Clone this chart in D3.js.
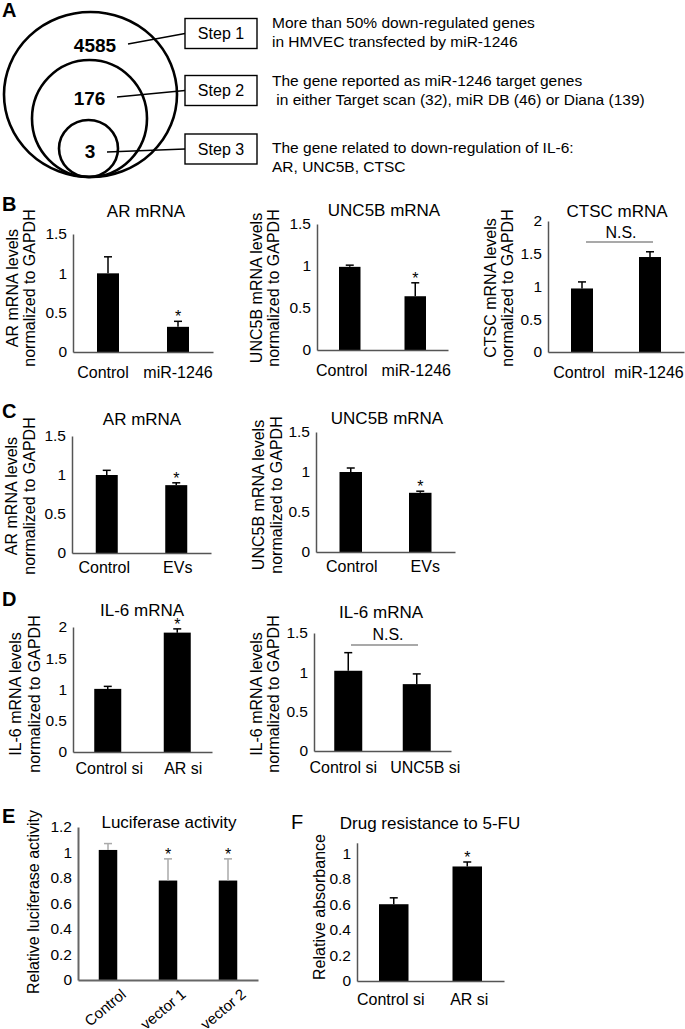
<!DOCTYPE html>
<html><head><meta charset="utf-8">
<script src="https://cdn.jsdelivr.net/npm/d3@7"></script>
<style>
body{margin:0;background:#fff}
text{font-family:Arial,"Liberation Sans",sans-serif;fill:#000}
</style>
</head><body>
<script>
// ---------------- DATA ----------------
// Panel A
const vennCounts = [4585, 176, 3];
const stepLabels = ["Step 1", "Step 2", "Step 3"];
const stepDescriptions = [
  ["More than 50% down-regulated genes", "in HMVEC transfected by miR-1246"],
  ["The gene reported as miR-1246 target genes", " in either Target scan (32), miR DB (46) or Diana (139)"],
  ["The gene related to down-regulation of IL-6:", "AR, UNC5B, CTSC"]
];
// Panel B
const bCategories = ["Control", "miR-1246"];
const bARValues = [1.0, 0.32],   bARErrors = [0.21, 0.07],   bARStars = [false, true];
const bUNCValues = [0.99, 0.64], bUNCErrors = [0.02, 0.16],  bUNCStars = [false, true];
const bCTSCValues = [0.97, 1.45], bCTSCErrors = [0.10, 0.08], bCTSCStars = [false, false];
// Panel C
const cCategories = ["Control", "EVs"];
const cARValues = [1.0, 0.87],  cARErrors = [0.06, 0.03],  cARStars = [false, true];
const cUNCValues = [1.0, 0.74], cUNCErrors = [0.05, 0.02], cUNCStars = [false, true];
// Panel D
const dARCategories = ["Control si", "AR si"];
const dARValues = [1.01, 1.91], dARErrors = [0.04, 0.06], dARStars = [false, true];
const dUNCCategories = ["Control si", "UNC5B si"];
const dUNCValues = [1.02, 0.85], dUNCErrors = [0.23, 0.13], dUNCStars = [false, false];
// Panel E
const eCategories = ["Control", "vector 1", "vector 2"];
const eValues = [1.02, 0.78, 0.78], eErrors = [0.05, 0.17, 0.17], eStars = [false, true, true];
// Panel F
const fCategories = ["Control si", "AR si"];
const fValues = [0.60, 0.895], fErrors = [0.05, 0.035], fStars = [false, true];
// Tick values
const ticks15 = [0, 0.5, 1, 1.5];
const ticks2 = [0, 0.5, 1, 1.5, 2];
const ticksE = [0, 0.2, 0.4, 0.6, 0.8, 1, 1.2];
const ticksF = [0, 0.2, 0.4, 0.6, 0.8, 1];

// ---------------- DRAW ----------------
const W = 685, H = 1029;
const svg = d3.select("body").append("svg").attr("width", W).attr("height", H);

// Panel letters
const letters = [
  {t: "A", x: 2, y: 16.5, w: "bold"}, {t: "B", x: 2, y: 211, w: "bold"},
  {t: "C", x: 2, y: 418, w: "bold"}, {t: "D", x: 2, y: 606, w: "bold"},
  {t: "E", x: 2, y: 823, w: "bold"}, {t: "F", x: 291, y: 829, w: "normal"}
];
svg.selectAll("text.letter").data(letters).join("text").attr("class", "letter")
  .attr("x", d => d.x).attr("y", d => d.y).attr("font-size", 20)
  .attr("font-weight", d => d.w).text(d => d.t);

// ---- Panel A ----
const circLayout = [
  {cx: 90.5, cy: 94.5, rx: 86.5, ry: 82.5, nx: 95, ny: 52, lx: 128, ly: 44, by: 33.5},
  {cx: 89.5, cy: 118.5, rx: 57.5, ry: 58.5, nx: 89.5, ny: 105, lx: 117, ly: 97, by: 90.5},
  {cx: 88.5, cy: 148.5, rx: 29.5, ry: 28.5, nx: 90, ny: 158, lx: 107, ly: 152, by: 149}
];
const gA = svg.append("g");
gA.selectAll("ellipse").data(circLayout).join("ellipse")
  .attr("cx", d => d.cx).attr("cy", d => d.cy).attr("rx", d => d.rx).attr("ry", d => d.ry)
  .attr("fill", "none").attr("stroke", "#000").attr("stroke-width", 2.6);
gA.selectAll("text.count").data(vennCounts).join("text").attr("class", "count")
  .attr("x", (d, i) => circLayout[i].nx).attr("y", (d, i) => circLayout[i].ny)
  .attr("text-anchor", "middle").attr("font-size", 19).attr("font-weight", "bold").text(d => d);
const boxX = 185, boxW = 72, boxH = 30;
gA.selectAll("line.lead").data(stepLabels).join("line").attr("class", "lead")
  .attr("x1", (d, i) => circLayout[i].lx).attr("y1", (d, i) => circLayout[i].ly)
  .attr("x2", boxX).attr("y2", (d, i) => circLayout[i].by)
  .attr("stroke", "#000").attr("stroke-width", 1.3);
gA.selectAll("rect.box").data(stepLabels).join("rect").attr("class", "box")
  .attr("x", boxX).attr("y", (d, i) => circLayout[i].by - boxH / 2)
  .attr("width", boxW).attr("height", boxH)
  .attr("fill", "#fff").attr("stroke", "#000").attr("stroke-width", 1.4);
gA.selectAll("text.step").data(stepLabels).join("text").attr("class", "step")
  .attr("x", boxX + boxW / 2).attr("y", (d, i) => circLayout[i].by).attr("dy", "0.36em")
  .attr("text-anchor", "middle").attr("font-size", 16).text(d => d);
const descBaselines = [[28, 47], [86, 104.5], [153, 172]];
stepDescriptions.forEach((lines, i) => {
  gA.selectAll(null).data(lines).join("text")
    .attr("x", 272).attr("y", (d, j) => descBaselines[i][j])
    .attr("font-size", 15.5).attr("xml:space", "preserve").style("white-space", "pre").text(d => d);
});

// ---- Bar chart helper ----
function drawChart(s) {
  const L = s.L;
  const g = svg.append("g");
  const step = (L.x1 - L.x0) / s.cats.length;
  const p = 1 - L.barW / step;
  const x = d3.scaleBand().domain(s.cats).range([L.x0, L.x1]).paddingInner(p).paddingOuter(p / 2);
  const y = d3.scaleLinear().domain([0, L.max]).range([L.y0, L.yTop]);
  const cx = i => x(s.cats[i]) + x.bandwidth() / 2;

  g.selectAll("rect.bar").data(s.vals).join("rect")
    .attr("x", (d, i) => x(s.cats[i])).attr("y", d => y(d))
    .attr("width", x.bandwidth()).attr("height", d => y(0) - y(d)).attr("fill", "#000");

  const ec = s.errColor || "#000";
  g.selectAll("line.err").data(s.vals).join("line")
    .attr("x1", (d, i) => cx(i)).attr("x2", (d, i) => cx(i))
    .attr("y1", d => y(d)).attr("y2", (d, i) => y(d + s.errs[i]))
    .attr("stroke", ec).attr("stroke-width", 1.5);
  g.selectAll("line.cap").data(s.vals).join("line")
    .attr("x1", (d, i) => cx(i) - 4).attr("x2", (d, i) => cx(i) + 4)
    .attr("y1", (d, i) => y(d + s.errs[i])).attr("y2", (d, i) => y(d + s.errs[i]))
    .attr("stroke", ec).attr("stroke-width", 1.5);
  s.vals.forEach((d, i) => {
    if (s.stars[i]) g.append("text").attr("x", cx(i)).attr("y", y(d + s.errs[i]) + 1)
      .attr("text-anchor", "middle").attr("font-size", 16).text("*");
  });

  const ya = g.append("g").attr("transform", `translate(${L.x0},0)`)
    .call(d3.axisLeft(y).tickValues(L.ticks).tickSize(0).tickSizeOuter(0).tickPadding(6).tickFormat(d3.format("~g")));
  const xa = g.append("g").attr("transform", `translate(0,${L.y0})`)
    .call(d3.axisBottom(x).tickSize(0).tickSizeOuter(0).tickPadding(L.labelPad));
  [ya, xa].forEach(a => {
    a.attr("font-size", null).attr("font-family", null);
    a.select(".domain").attr("stroke", L.axisColor || "#555").attr("stroke-width", L.axisW || 1.5);
    a.selectAll("text").attr("font-size", a === ya ? 15.5 : 16).attr("fill", "#000");
  });
  if (L.labelDx) xa.selectAll(".tick text").attr("x", (d, i) => L.labelDx[i]);
  if (s.rotate) {
    xa.selectAll(".tick text").attr("text-anchor", "end").attr("dy", null)
      .attr("x", s.rotate.dx).attr("y", s.rotate.dy)
      .attr("transform", `rotate(-40 ${s.rotate.dx} ${s.rotate.dy})`).attr("font-size", 15);
  }

  g.append("text").attr("x", L.titleX).attr("y", L.titleY).attr("text-anchor", "middle")
    .attr("font-size", 17).text(s.title);
  g.selectAll("text.ytitle").data(s.yTitle).join("text").attr("class", "ytitle")
    .attr("transform", (d, i) => `translate(${L.yTitleX[i]},${L.yTitleY}) rotate(-90)`)
    .attr("text-anchor", "middle").attr("font-size", 16).text(d => d);
  if (s.ns) {
    g.append("text").attr("x", s.ns.x).attr("y", s.ns.y).attr("text-anchor", "middle")
      .attr("font-size", 16).text("N.S.");
    g.append("line").attr("x1", s.ns.x1).attr("x2", s.ns.x2).attr("y1", s.ns.ly).attr("y2", s.ns.ly)
      .attr("stroke", "#555").attr("stroke-width", 1.2);
  }
}

// ---- Panel B ----
drawChart({cats: bCategories, vals: bARValues, errs: bARErrors, stars: bARStars,
  title: "AR mRNA", yTitle: ["AR mRNA levels", "normalized to GAPDH"],
  L: {x0: 73, x1: 213, y0: 352, yTop: 234, max: 1.5, ticks: ticks15, barW: 22, labelPad: 14.6, labelDx: [-5, 0],
      titleX: 146, titleY: 216.5, yTitleX: [17.5, 34.5], yTitleY: 288}});
drawChart({cats: bCategories, vals: bUNCValues, errs: bUNCErrors, stars: bUNCStars,
  title: "UNC5B mRNA", yTitle: ["UNC5B mRNA levels", "normalized to GAPDH"],
  L: {x0: 317, x1: 448, y0: 350, yTop: 224, max: 1.5, ticks: ticks15, barW: 21.5, labelPad: 14.6, labelDx: [-8, 1],
      titleX: 384, titleY: 215.5, yTitleX: [261.5, 279], yTitleY: 288}});
drawChart({cats: bCategories, vals: bCTSCValues, errs: bCTSCErrors, stars: bCTSCStars,
  title: "CTSC mRNA", yTitle: ["CTSC mRNA levels", "normalized to GAPDH"],
  ns: {x: 621, y: 238, x1: 586, x2: 653, ly: 242},
  L: {x0: 548, x1: 684, y0: 352, yTop: 221, max: 2, ticks: ticks2, barW: 22, labelPad: 14.6, labelDx: [-3, -1],
      titleX: 617, titleY: 217, yTitleX: [495.5, 512.5], yTitleY: 288}});

// ---- Panel C ----
drawChart({cats: cCategories, vals: cARValues, errs: cARErrors, stars: cARStars,
  title: "AR mRNA", yTitle: ["AR mRNA levels", "normalized to GAPDH"],
  L: {x0: 72, x1: 211, y0: 553, yTop: 436, max: 1.5, ticks: ticks15, barW: 22, labelPad: 8.6, labelDx: [-2.5, 1.5],
      titleX: 142, titleY: 425, yTitleX: [16.5, 34.5], yTitleY: 496}});
drawChart({cats: cCategories, vals: cUNCValues, errs: cUNCErrors, stars: cUNCStars,
  title: "UNC5B mRNA", yTitle: ["UNC5B mRNA levels", "normalized to GAPDH"],
  L: {x0: 316, x1: 455, y0: 552, yTop: 432, max: 1.5, ticks: ticks15, barW: 22.5, labelPad: 8.6, labelDx: [1, 5],
      titleX: 387, titleY: 424, yTitleX: [263.5, 281.5], yTitleY: 495}});

// ---- Panel D ----
drawChart({cats: dARCategories, vals: dARValues, errs: dARErrors, stars: dARStars,
  title: "IL-6 mRNA", yTitle: ["IL-6 mRNA levels", "normalized to GAPDH"],
  L: {x0: 73, x1: 212, y0: 752, yTop: 627, max: 2, ticks: ticks2, barW: 27, labelPad: 10.6, labelDx: [1.5, 6],
      titleX: 142, titleY: 616, yTitleX: [20.5, 40], yTitleY: 694}});
drawChart({cats: dUNCCategories, vals: dUNCValues, errs: dUNCErrors, stars: dUNCStars,
  title: "IL-6 mRNA", yTitle: ["IL-6 mRNA levels", "normalized to GAPDH"],
  ns: {x: 388, y: 640, x1: 351, x2: 418, ly: 645},
  L: {x0: 314, x1: 451, y0: 751, yTop: 633, max: 1.5, ticks: ticks15, barW: 28, labelPad: 10.6, labelDx: [-5, 8.5],
      titleX: 381, titleY: 618, yTitleX: [262, 279], yTitleY: 694}});

// ---- Panel E ----
drawChart({cats: eCategories, vals: eValues, errs: eErrors, stars: eStars, errColor: "#aaa",
  title: "Luciferase activity", yTitle: ["Relative luciferase activity"],
  rotate: {dx: 19, dy: 16},
  L: {x0: 78, x1: 258, y0: 980, yTop: 827, max: 1.2, ticks: ticksE, barW: 18.5, labelPad: 10,
      axisColor: "#666", axisW: 2,
      titleX: 169, titleY: 828, yTitleX: [38.5], yTitleY: 902}});

// ---- Panel F ----
drawChart({cats: fCategories, vals: fValues, errs: fErrors, stars: fStars,
  title: "Drug resistance to 5-FU", yTitle: ["Relative absorbance"],
  L: {x0: 357, x1: 504, y0: 981, yTop: 842.8, max: 1.08, ticks: ticksF, barW: 29.5, labelPad: 12.6, labelDx: [-3, 2],
      titleX: 430, titleY: 829, yTitleX: [324.5], yTitleY: 907}});
</script>
</body></html>
